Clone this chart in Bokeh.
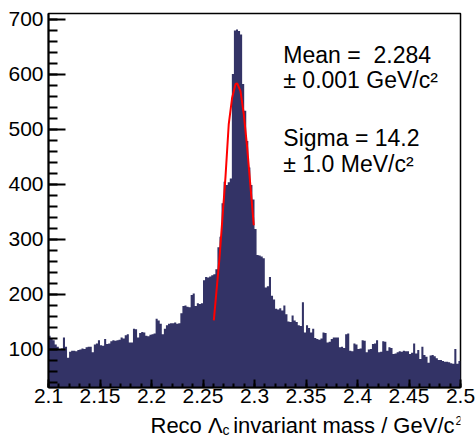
import numpy as np
from bokeh.plotting import figure
from bokeh.layouts import column
from bokeh.models import (Range1d, SingleIntervalTicker, CustomJSTickFormatter,
                          ColumnDataSource)
from bokeh.core.properties import value
from bokeh.embed import file_html
from bokeh.resources import INLINE

# ---------------- data ----------------
mass_lo = 2.1
mass_hi = 2.5
counts = [
    124, 118, 116, 108, 104, 100, 101, 121, 104, 84,
    95, 97, 97, 96, 98, 99, 101, 100, 103, 104,
    104, 94, 108, 110, 116, 107, 106, 118, 109, 110,
    114, 116, 115, 116, 117, 121, 119, 125, 127, 112,
    112, 137, 136, 121, 129, 131, 130, 124, 123, 126,
    127, 128, 155, 152, 146, 127, 137, 143, 146, 147,
    147, 148, 146, 147, 165, 178, 179, 177, 176, 198,
    201, 178, 183, 182, 183, 225, 231, 230, 232, 234,
    236, 245, 285, 304, 365, 404, 398, 403, 410, 600,
    679, 681, 678, 672, 582, 533, 478, 430, 398, 372,
    318, 271, 270, 268, 265, 212, 214, 231, 197, 190,
    173, 172, 174, 170, 179, 163, 150, 149, 161, 152,
    149, 143, 142, 185, 130, 143, 138, 130, 137, 120,
    118, 117, 119, 130, 129, 112, 113, 118, 121, 121,
    121, 103, 104, 102, 127, 128, 97, 96, 110, 108,
    100, 101, 116, 115, 94, 99, 100, 109, 110, 116,
    94, 95, 114, 113, 97, 103, 102, 91, 92, 94,
    96, 95, 97, 96, 96, 91, 93, 110, 92, 98,
    82, 104, 89, 86, 75, 88, 89, 87, 83, 80,
    80, 78, 77, 77, 76, 74, 73, 100, 73, 78,
]

fit_x = [2.2605, 2.2660, 2.2718, 2.2750, 2.2783, 2.2816, 2.2832,
         2.2864, 2.2896, 2.2929, 2.2961, 2.2993]
fit_y = [152, 265, 412, 509, 557, 582, 583, 569, 527, 466, 395, 325]

x_ticks = [2.1, 2.15, 2.2, 2.25, 2.3, 2.35, 2.4, 2.45, 2.5]
x_tick_labels = ["2.1", "2.15", "2.2", "2.25", "2.3", "2.35", "2.4", "2.45", "2.5"]

stat_lines = ["Mean = \u00a02.284", "\u00b1 0.001 GeV/c\u00b2",
              "Sigma = 14.2", "\u00b1 1.0 MeV/c\u00b2"]

# ---------------- figure ----------------
FONT = "Liberation Sans"
NAVY = "#333366"

p = figure(width=475, height=413, output_backend="svg", toolbar_location=None,
           x_range=Range1d(2.1, 2.5), y_range=Range1d(30, 710),
           min_border_left=48, min_border_right=15, min_border_top=13,
           min_border_bottom=26)
p.xgrid.visible = False
p.ygrid.visible = False
p.background_fill_color = "white"
p.border_fill_color = "white"
p.outline_line_color = "black"
p.outline_line_width = 1.5

n = len(counts)
edges = np.linspace(mass_lo, mass_hi, n + 1)
src = ColumnDataSource(dict(x=list(edges), y=list(counts) + [counts[-1]]))
p.varea_step(x="x", y1=0, y2="y", step_mode="after", source=src,
             fill_color=NAVY, fill_alpha=1.0)

p.line(fit_x, fit_y, line_color="red", line_width=2)

# axes
xa = p.xaxis[0]
xa.ticker = SingleIntervalTicker(interval=0.05, num_minor_ticks=5)
xa.formatter = CustomJSTickFormatter(
    args=dict(tick_vals=x_ticks, tick_labels=x_tick_labels),
    code="""
    for (let i = 0; i < tick_vals.length; i++) {
        if (Math.abs(tick_vals[i] - tick) < 1e-6) return tick_labels[i];
    }
    return '';
    """)
xa.major_tick_in = 8
xa.major_tick_out = 0
xa.minor_tick_in = 4
xa.minor_tick_out = 0
xa.major_tick_line_width = 2
xa.minor_tick_line_width = 2
xa.axis_line_width = 2
xa.major_label_text_font = FONT
xa.major_label_text_font_size = "21px"
xa.major_label_text_color = "black"
xa.major_label_standoff = 1

ya = p.yaxis[0]
ya.ticker = SingleIntervalTicker(interval=100, num_minor_ticks=5)
ya.major_tick_in = 17
ya.major_tick_out = 0
ya.minor_tick_in = 9
ya.minor_tick_out = 0
ya.major_tick_line_width = 2
ya.minor_tick_line_width = 2
ya.axis_line_width = 2
ya.major_label_text_font = FONT
ya.major_label_text_font_size = "21px"
ya.major_label_text_color = "black"
ya.major_label_standoff = 5

# statistics box
p.text(x=[2.328] * 4, y=[634, 589, 484, 437], text=stat_lines,
       text_font=value(FONT), text_font_size=value("23px"),
       text_color="black", text_baseline="alphabetic", text_align="left")

# ---------------- x-axis title strip ----------------
t = figure(width=475, height=25, output_backend="svg", toolbar_location=None,
           x_range=Range1d(48, 460), y_range=Range1d(0, 25),
           min_border_left=48, min_border_right=15, min_border_top=0,
           min_border_bottom=0, x_axis_location=None, y_axis_location=None)
t.xgrid.visible = False
t.ygrid.visible = False
t.outline_line_color = None
t.background_fill_color = "white"
t.border_fill_color = "white"

t.text(x=[150], y=[13.4], text=["Reco \u039b"], text_font=value(FONT),
       text_font_size=value("22px"), text_color="black",
       text_baseline="alphabetic", text_align="left")
t.text(x=[222], y=[9], text=["c"], text_font=value(FONT),
       text_font_size=value("14px"), text_color="black",
       text_baseline="alphabetic", text_align="left")
t.text(x=[454], y=[13.4], text=["invariant mass / GeV/c"], text_font=value(FONT),
       text_font_size=value("22px"), text_color="black",
       text_baseline="alphabetic", text_align="right")
t.text(x=[455], y=[17.7], text=["2"], text_font=value(FONT),
       text_font_size=value("12px"), text_color="black",
       text_baseline="alphabetic", text_align="left")

layout = column(p, t, spacing=0)
open("out.html", "w").write(file_html(layout, INLINE))
